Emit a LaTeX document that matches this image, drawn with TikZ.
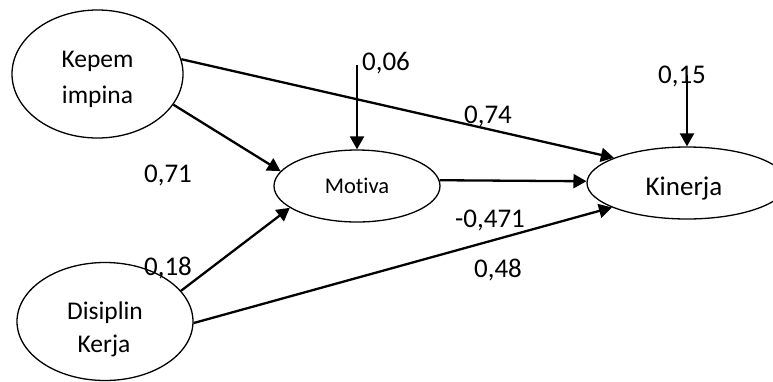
\documentclass[tikz,border=0pt]{standalone}
\usepackage{fontspec}
\setmainfont{Carlito}[Ligatures=NoCommon]
\usetikzlibrary{shapes.geometric,arrows.meta}
\begin{document}
\begin{tikzpicture}[x=1pt,y=-1pt,
  var/.style={draw,ellipse,line width=1.3pt,inner sep=0pt},
  lbl/.style={inner sep=0pt,anchor=base,font=\fontsize{27}{27}\selectfont},
  vtxt/.style={inner sep=0pt,anchor=base,font=\fontsize{25.5}{25.5}\selectfont},
  path/.style={line width=2.3pt,-{Triangle[length=13pt,width=14pt]}},
  plain/.style={line width=2.3pt}]
\useasboundingbox (0,0) rectangle (773,381);
% variables
\node[var,minimum width=171pt,minimum height=128pt] (kep) at (97.5,74) {};
\node[var,minimum width=166pt,minimum height=72pt] (mot) at (357,186) {};
\node[var,minimum width=200pt,minimum height=72pt] (kin) at (687,183) {};
\node[var,minimum width=176pt,minimum height=118pt] (dis) at (105,321.5) {};
% texts
\node[vtxt] (t1) at (97.5,67) {Kepem};
\node[vtxt] (t2) at (97.5,103) {impina};
\node[inner sep=0pt,anchor=base,font=\fontsize{22.5}{22.5}\selectfont] (t3) at (357,193) {Motiva};
\node[lbl] (t4) at (684,195) {Kinerja};
\node[vtxt] (t5) at (105,319) {Disiplin};
\node[vtxt] (t6) at (104,352) {Kerja};
% residual coordinates
\coordinate (e1) at (357,65);
\coordinate (e2) at (687,75);
% connectors
\draw[path] (kep.10) -- (kin.161);
\draw[path] (kep.338) -- (mot.169);
\draw[path] (mot.4) -- (kin.179);
\draw[path] (dis.22) -- (mot.198);
\draw[path] (dis.359) -- (kin.198);
\draw[path] (e1) -- (mot.north);
\draw[path] (e2) -- (kin.north);
% coefficients
\node[lbl] (c1) at (386,70) {0,06};
\node[lbl] (c2) at (488,123) {0,74};
\node[lbl] (c3) at (682,83) {0,15};
\node[lbl] (c4) at (168,182) {0,71};
\node[lbl] (c5) at (168,275) {0,18};
\node[lbl] (c6) at (490,227) {-0,471};
\node[lbl] (c7) at (498,277) {0,48};
\end{tikzpicture}
\end{document}
